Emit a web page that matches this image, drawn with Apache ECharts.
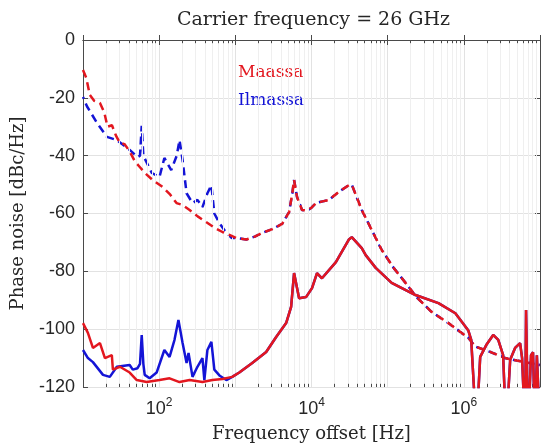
<!DOCTYPE html>
<html>
<head>
<meta charset="utf-8">
<title>Carrier frequency = 26 GHz</title>
<script src="https://cdn.jsdelivr.net/npm/echarts@6/dist/echarts.min.js"></script>
<style>
  * { margin: 0; padding: 0; }
  #main { width: 543px; height: 448px; }
</style>
</head>
<body>
<div id="main"></div>
<script>
// ---- data (frequency offset in Hz, phase noise in dBc/Hz) ----
// upper (dashed) curves, left part differs between the two series
var maassaDashF = [10, 11, 12.3, 14, 16.7, 19, 21, 24, 27, 30.5, 35, 41, 48, 56, 65, 82, 111, 140, 169, 200, 251, 320, 418, 540, 677, 850];
var maassaDashV = [-10.4, -13, -19, -21, -21.8, -25, -30, -29.5, -33, -35.6, -36, -38.5, -42, -44, -46, -48.4, -50.8, -53.5, -56.4, -57, -58.8, -61, -63, -65, -66.4, -67.5];
var ilmassaDashF = [10, 11.3, 15.3, 20.6, 27.8, 41, 52, 56, 59, 62, 65, 80, 101, 117, 144, 170, 185, 203, 229, 274, 318, 370, 430, 485, 530, 618, 762, 900];
var ilmassaDashV = [-19.7, -23, -28.7, -33.5, -34.6, -38, -40.5, -40, -29.7, -40, -40.5, -46, -47.4, -40.8, -45, -40, -34.6, -41.5, -53, -56.4, -55.3, -57.8, -53, -50.2, -60, -63.3, -66.7, -68.5];
// upper (dashed) curves, common right part
var dashTailF = [1030, 1393, 1800, 2255, 3000, 4115, 5080, 5600, 5905, 6460, 7510, 8730, 10000, 11450, 14000, 16940, 22880, 30900, 33800, 45700, 61800, 83500, 119800, 171800, 239000, 376000, 627000, 1146000, 1410000, 2290000, 3470000, 6300000, 10000000];
var dashTailV = [-68.5, -69, -68, -66.7, -65.5, -63.6, -59.5, -53, -48.4, -54.3, -58.8, -59, -58, -56.4, -55.8, -55.3, -52.5, -50.2, -50, -58.8, -65.7, -72.6, -78.8, -84, -88.9, -94, -97.9, -103, -106, -108, -110, -111.4, -112.4];

// lower (solid) curves, left part differs
var maassaSolidF = [10, 10.6, 11.6, 13.5, 16.7, 19.4, 23.9, 24.7, 30.5, 41, 50.8, 68.6, 101, 137, 185, 251, 370, 500, 677, 910];
var maassaSolidV = [-97.9, -98, -101.3, -106.5, -104.8, -110, -109, -114, -113, -115, -117.6, -118.3, -117.6, -117, -118.3, -117.6, -118.3, -117.6, -117.2, -116.5];
var ilmassaSolidF = [10, 11.6, 13.5, 18.3, 22.5, 27.8, 41, 45, 52, 56, 59, 62, 64.6, 75, 92.6, 117, 137, 159, 179, 203, 229, 243, 274, 318, 370, 392, 430, 485, 530, 618, 762, 910];
var ilmassaSolidV = [-107.2, -110, -111.4, -115.8, -116.5, -113, -112.4, -114, -113.5, -112, -102, -112, -115.8, -117, -115, -107.2, -109.6, -103.7, -96.8, -104.8, -111.7, -108.2, -116.5, -113, -110, -117.6, -107.2, -104.4, -114, -116, -117.6, -116.5];
// lower (solid) curves, common right part incl. the ripples above 1 MHz
var solidTailF = [1127, 1667, 2540, 3435, 4645, 5400, 5905, 6870, 8480, 10160, 11810, 13720, 20900, 30900, 33800, 45700, 51500, 69700, 112800, 232000, 464000, 774000, 1146000, 1250000, 1460000, 1640000, 1970000, 2430000, 2830000, 3280000, 3590000, 4060000, 4710000, 5480000, 5820000, 6370000, 6560000, 6970000, 7620000, 8100000, 8600000, 9100000, 10000000];
var solidTailV = [-115, -111.7, -107.9, -102.7, -97.9, -92.3, -80.6, -89.3, -88.9, -85.8, -80.6, -82.4, -76.8, -69, -68.2, -72, -74.4, -78.8, -84, -88.2, -91, -94.5, -100.5, -103.7, -135, -109.6, -105.5, -102, -103.7, -109, -135, -110.6, -106.5, -104.8, -110, -135, -93.4, -135, -109, -108, -135, -109, -135];

// axis decoration
var labelExponents = [2, 4, 6];
var decades = [10, 100, 1000, 10000, 100000, 1000000];
var minorSteps = [2, 3, 4, 5, 6, 7, 8, 9];

var RED = '#e3171f';
var BLUE = '#1414d6';
var AXIS = '#4a4a4a';

function zip(f, v) {
    var out = [];
    for (var i = 0; i < f.length; i++) out.push([f[i], v[i]]);
    return out;
}

var minorVals = [];
decades.forEach(function (d) {
    minorSteps.forEach(function (m) { minorVals.push(d * m); });
});
// minor grid lines plus small inward ticks on bottom and top
var minorLines = minorVals.map(function (v) { return {xAxis: v}; });
var minorTicks = [];
minorVals.forEach(function (v) {
    minorTicks.push([{coord: [v, -120]}, {coord: [v, -118.9]}]);
    minorTicks.push([{coord: [v, 0]}, {coord: [v, -1.1]}]);
});

var chart = echarts.init(document.getElementById('main'), null, {renderer: 'canvas'});

var option = {
    animation: false,
    backgroundColor: '#ffffff',
    title: {
        text: 'Carrier frequency = 26 GHz',
        left: 172,
        top: 6,
        textStyle: {fontFamily: 'DejaVu Serif', fontSize: 19, fontWeight: 'normal', color: '#262626'}
    },
    legend: {
        orient: 'vertical',
        left: 227,
        top: 59,
        itemWidth: 0,
        itemHeight: 0,
        itemGap: 11,
        selectedMode: false,
        textStyle: {fontFamily: 'DejaVu Serif', fontSize: 17},
        data: [
            {name: 'Maassa', textStyle: {color: RED}},
            {name: 'Ilmassa', textStyle: {color: BLUE}}
        ]
    },
    grid: {left: 83, right: 1, top: 40, bottom: 61},
    xAxis: [{
        type: 'log',
        logBase: 10,
        min: 10,
        max: 1e7,
        interval: 1,
        name: 'Frequency offset [Hz]',
        nameLocation: 'middle',
        nameGap: 38,
        nameTextStyle: {fontFamily: 'DejaVu Serif', fontSize: 18, color: '#262626'},
        axisLine: {lineStyle: {color: AXIS}},
        axisTick: {inside: true, length: 5, lineStyle: {color: AXIS}},
        splitLine: {show: true, lineStyle: {color: '#e2e2e2'}},
        axisLabel: {
            margin: 10,
            color: '#262626',
            formatter: function (v) {
                var e = Math.round(Math.log10(v));
                return labelExponents.indexOf(e) >= 0 ? '{b|10}{s|' + e + '}' : '';
            },
            rich: {
                b: {fontFamily: 'Liberation Sans', fontSize: 18, color: '#262626'},
                s: {fontFamily: 'Liberation Sans', fontSize: 12, color: '#262626', padding: [0, 0, 12, 0]}
            }
        }
    }, {
        type: 'log',
        logBase: 10,
        min: 10,
        max: 1e7,
        interval: 1,
        position: 'top',
        axisLine: {lineStyle: {color: AXIS}},
        axisTick: {inside: true, length: 5, lineStyle: {color: AXIS}},
        axisLabel: {show: false},
        splitLine: {show: false}
    }],
    yAxis: [{
        type: 'value',
        min: -120,
        max: 0,
        interval: 20,
        name: 'Phase noise [dBc/Hz]',
        nameLocation: 'middle',
        nameGap: 56,
        nameTextStyle: {fontFamily: 'DejaVu Serif', fontSize: 18, color: '#262626'},
        axisLine: {show: true, lineStyle: {color: AXIS}},
        axisTick: {show: true, inside: true, length: 5, lineStyle: {color: AXIS}},
        splitLine: {show: true, lineStyle: {color: '#e2e2e2'}},
        axisLabel: {fontFamily: 'Liberation Sans', fontSize: 18, color: '#262626', margin: 8}
    }, {
        type: 'value',
        min: -120,
        max: 0,
        interval: 20,
        position: 'right',
        axisLine: {show: true, lineStyle: {color: AXIS}},
        axisTick: {show: true, inside: true, length: 5, lineStyle: {color: AXIS}},
        axisLabel: {show: false},
        splitLine: {show: false}
    }],
    series: [
        {
            name: 'grid',
            type: 'line',
            z: 1,
            silent: true,
            data: [],
            markLine: {
                silent: true,
                symbol: 'none',
                animation: false,
                label: {show: false},
                lineStyle: {color: '#efefef', width: 1, type: 'solid'},
                data: minorLines
            }
        },
        {
            name: 'ticks',
            type: 'line',
            z: 3,
            silent: true,
            data: [],
            markLine: {
                silent: true,
                symbol: 'none',
                animation: false,
                label: {show: false},
                lineStyle: {color: AXIS, width: 1, type: 'solid'},
                data: minorTicks
            }
        },
        {
            name: 'Ilmassa',
            type: 'line',
            z: 4,
            showSymbol: false,
            color: BLUE,
            lineStyle: {color: BLUE, width: 2.5, type: [8, 5], dashOffset: 6},
            data: zip(ilmassaDashF.concat(dashTailF), ilmassaDashV.concat(dashTailV))
        },
        {
            name: 'Maassa',
            type: 'line',
            z: 5,
            showSymbol: false,
            color: RED,
            lineStyle: {color: RED, width: 2.5, type: [8, 5]},
            data: zip(maassaDashF.concat(dashTailF), maassaDashV.concat(dashTailV))
        },
        {
            name: 'Ilmassa',
            type: 'line',
            z: 6,
            showSymbol: false,
            color: BLUE,
            lineStyle: {color: BLUE, width: 2.5},
            data: zip(ilmassaSolidF.concat(solidTailF), ilmassaSolidV.concat(solidTailV))
        },
        {
            name: 'Maassa',
            type: 'line',
            z: 7,
            showSymbol: false,
            color: RED,
            lineStyle: {color: RED, width: 2.5},
            data: zip(maassaSolidF.concat(solidTailF), maassaSolidV.concat(solidTailV))
        }
    ]
};
chart.setOption(option);
</script>
</body>
</html>
